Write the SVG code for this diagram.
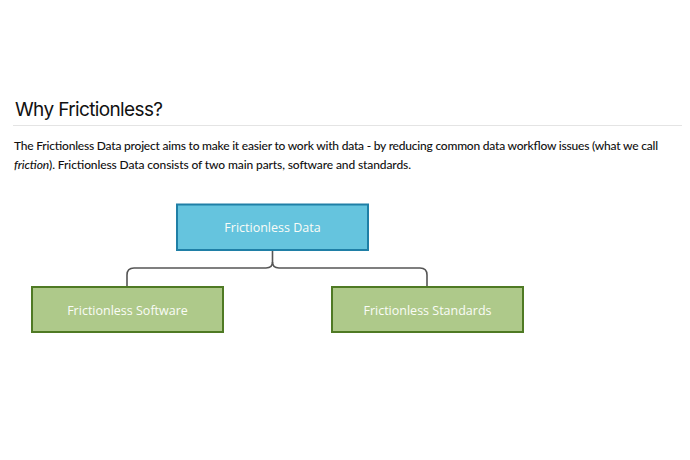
<svg xmlns="http://www.w3.org/2000/svg" width="690" height="460" viewBox="0 0 690 460">
<style>
.h{font-family:"Inter","Liberation Sans",sans-serif;font-size:19px;font-weight:400;fill:#111}
.p{font-family:"Lato","Liberation Sans",sans-serif;font-size:12px;font-weight:500;fill:#111}
.lbl{font-family:"Open Sans","Liberation Sans",sans-serif;font-size:12.5px;fill:#fafcf7;text-anchor:middle}
.blue{fill:#65c4de;stroke:#1f7fa6;stroke-width:2}
.green{fill:#aec98a;stroke:#4f7a24;stroke-width:2}
.conn{fill:none;stroke:#555;stroke-width:1.6}
</style>
<rect width="690" height="460" fill="#fff"/>
<text class="h" x="15" y="116" textLength="148">Why Frictionless?</text>
<line x1="13" y1="125.5" x2="682" y2="125.5" stroke="#e4e4e4" stroke-width="1"/>
<text class="p" x="14" y="149.5" textLength="644">The Frictionless Data project aims to make it easier to work with data - by reducing common data workflow issues (what we call</text>
<text class="p" x="14" y="168.5" textLength="397"><tspan font-style="italic">friction</tspan>). Frictionless Data consists of two main parts, software and standards.</text>
<g id="connectors">
<path class="conn" d="M272.5 250 V262 Q272.5 268 266 268 H134 Q127 268 127 275 V287"/>
<path class="conn" d="M272.5 262 Q272.5 268 279 268 H420 Q427 268 427 275 V287"/>
</g>
<g id="node-data">
<rect class="blue" x="177" y="204.5" width="191" height="45.5"/>
<text class="lbl" x="272.5" y="232">Frictionless Data</text>
</g>
<g id="node-software">
<rect class="green" x="32" y="287" width="191" height="45"/>
<text class="lbl" x="127.5" y="314.5">Frictionless Software</text>
</g>
<g id="node-standards">
<rect class="green" x="332" y="287" width="191" height="45"/>
<text class="lbl" x="427.5" y="314.5">Frictionless Standards</text>
</g>
</svg>
